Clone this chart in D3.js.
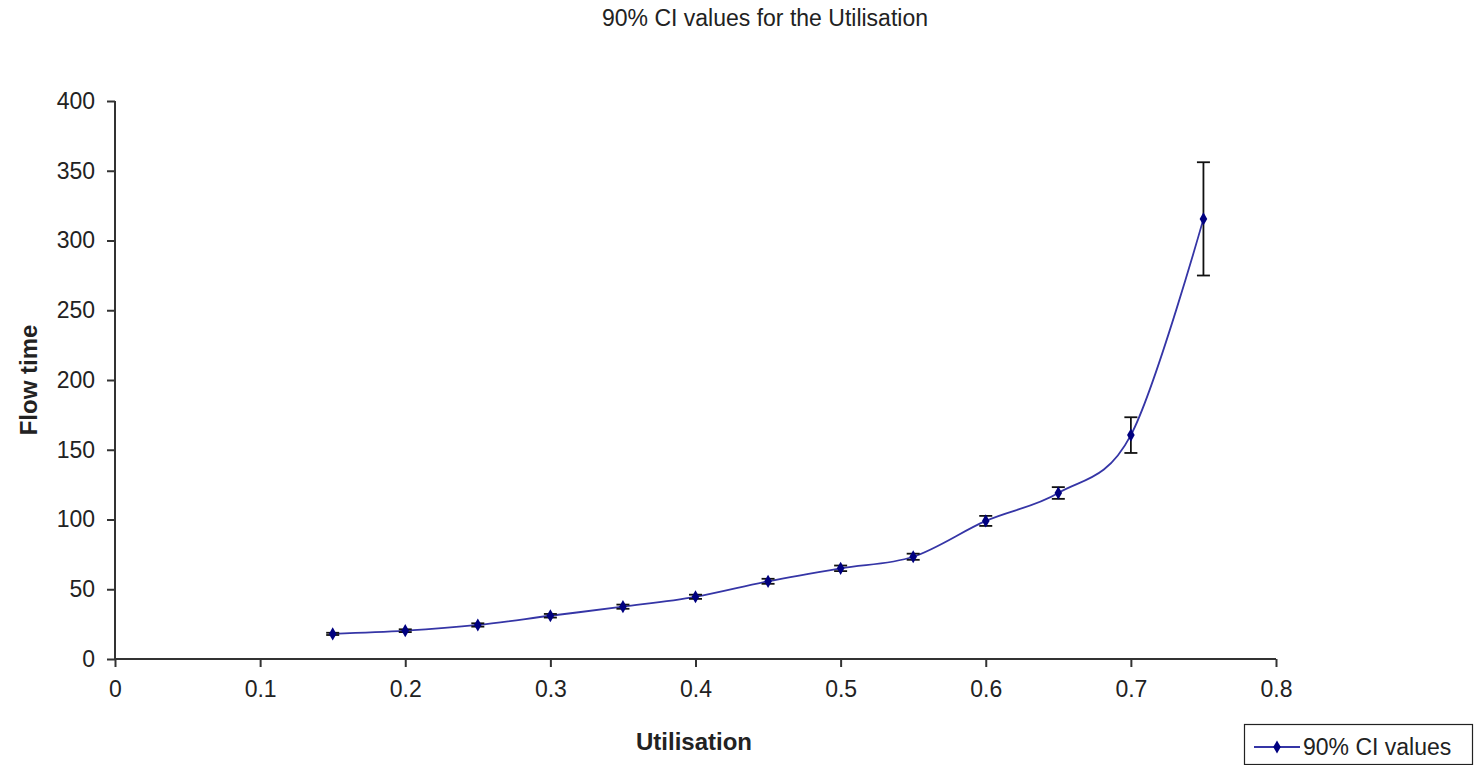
<!DOCTYPE html>
<html>
<head>
<meta charset="utf-8">
<script src="https://cdn.jsdelivr.net/npm/d3@7"></script>
<style>
  body { margin: 0; background: #fff; }
  text { font-family: "Liberation Sans", Arial, sans-serif; fill: #222; }
</style>
</head>
<body>
<svg id="chart" width="1474" height="765"></svg>
<script>
// utilisation levels and mean flow time
var utilisation = [0.15, 0.2, 0.25, 0.3, 0.35, 0.4, 0.45, 0.5, 0.55, 0.6, 0.65, 0.7, 0.75];
var flowTime = [18, 20.3, 24.4, 31, 37.5, 44.6, 55.7, 65, 73.3, 99, 119, 160.5, 315.5];
// half width of the 90% CI
var ciHalf = [0.8, 1, 1.2, 1.3, 1.5, 1.5, 1.8, 2, 2.2, 3.6, 4.2, 12.8, 40.6];

var xTicks = [0, 0.1, 0.2, 0.3, 0.4, 0.5, 0.6, 0.7, 0.8];
var yTicks = [0, 50, 100, 150, 200, 250, 300, 350, 400];
var seriesName = "90% CI values";

var svg = d3.select("#chart");

var x = d3.scaleLinear().domain([0, 0.8]).range([115, 1276]);
var y = d3.scaleLinear().domain([0, 400]).range([659, 101]);

var pts = utilisation.map(function(u, i) {
	return { x: u, y: flowTime[i], lo: flowTime[i] - ciHalf[i], hi: flowTime[i] + ciHalf[i] };
});

// title
svg.append("text")
	.attr("x", 765).attr("y", 26)
	.attr("text-anchor", "middle")
	.style("font-size", "23px")
	.text("90% CI values for the Utilisation");

// axes
var xAxis = svg.append("g")
	.attr("transform", "translate(0," + y(0) + ")")
	.call(d3.axisBottom(x).tickValues(xTicks).tickSize(8).tickPadding(14)
		.tickFormat(function(d) { return d === 0 ? "0" : d3.format(".1f")(d); }));
var yAxis = svg.append("g")
	.attr("transform", "translate(" + x(0) + ",0)")
	.call(d3.axisLeft(y).tickValues(yTicks).tickSize(8).tickPadding(12));

[xAxis, yAxis].forEach(function(ax) {
	ax.select(".domain").attr("stroke", "#333").attr("stroke-width", 2);
	ax.selectAll(".tick line").attr("stroke", "#333").attr("stroke-width", 2);
	ax.selectAll(".tick text").style("font-size", "23px").attr("fill", "#222")
		.style("font-family", "'Liberation Sans', Arial, sans-serif");
});
// plain domain lines, the ticks do the rest
yAxis.select(".domain").attr("d", "M0," + y(400) + "V" + y(0));
xAxis.select(".domain").attr("d", "M" + x(0) + ",0H" + x(0.8));

// axis titles
svg.append("text")
	.attr("transform", "translate(37,380) rotate(-90)")
	.attr("text-anchor", "middle")
	.style("font-size", "24px").style("font-weight", "bold")
	.text("Flow time");
svg.append("text")
	.attr("x", 694).attr("y", 750)
	.attr("text-anchor", "middle")
	.style("font-size", "24px").style("font-weight", "bold")
	.text("Utilisation");

// smoothed line
var line = d3.line()
	.x(function(d) { return x(d.x); })
	.y(function(d) { return y(d.y); })
	.curve(d3.curveCatmullRom.alpha(0));

svg.append("path")
	.datum(pts)
	.attr("fill", "none")
	.attr("stroke", "#3535a6")
	.attr("stroke-width", 1.8)
	.attr("d", line);

// error bars
var eb = svg.append("g").attr("stroke", "#111").attr("stroke-width", 1.8);
eb.selectAll(".whisker").data(pts).enter().append("line")
	.attr("x1", function(d) { return x(d.x); })
	.attr("x2", function(d) { return x(d.x); })
	.attr("y1", function(d) { return y(d.lo); })
	.attr("y2", function(d) { return y(d.hi); });
eb.selectAll(".capHi").data(pts).enter().append("line")
	.attr("x1", function(d) { return x(d.x) - 6.5; })
	.attr("x2", function(d) { return x(d.x) + 6.5; })
	.attr("y1", function(d) { return y(d.hi); })
	.attr("y2", function(d) { return y(d.hi); });
eb.selectAll(".capLo").data(pts).enter().append("line")
	.attr("x1", function(d) { return x(d.x) - 6.5; })
	.attr("x2", function(d) { return x(d.x) + 6.5; })
	.attr("y1", function(d) { return y(d.lo); })
	.attr("y2", function(d) { return y(d.lo); });

// diamond markers
var diamond = d3.symbol().type(d3.symbolDiamond).size(50);
svg.selectAll(".marker").data(pts).enter().append("path")
	.attr("transform", function(d) { return "translate(" + x(d.x) + "," + y(d.y) + ")"; })
	.attr("d", diamond)
	.attr("fill", "#000080");

// legend
var lg = svg.append("g");
lg.append("rect")
	.attr("x", 1244.5).attr("y", 724.5).attr("width", 228).attr("height", 40)
	.attr("fill", "#fff").attr("stroke", "#222").attr("stroke-width", 1.2);
lg.append("line")
	.attr("x1", 1254).attr("x2", 1300).attr("y1", 747).attr("y2", 747)
	.attr("stroke", "#3535a6").attr("stroke-width", 1.8);
lg.append("path")
	.attr("transform", "translate(1277,747)")
	.attr("d", diamond)
	.attr("fill", "#000080");
lg.append("text")
	.attr("x", 1303).attr("y", 755)
	.style("font-size", "23px")
	.text(seriesName);
</script>
</body>
</html>
